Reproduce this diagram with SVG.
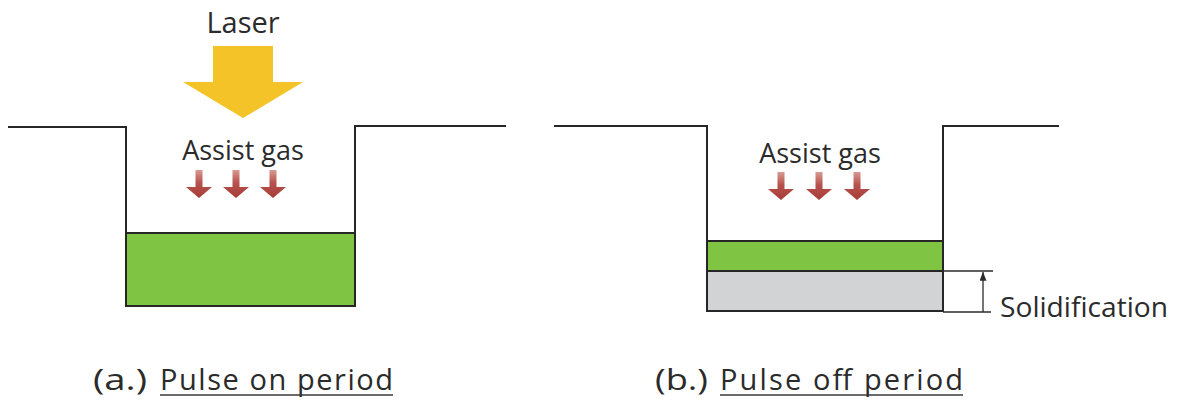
<svg xmlns="http://www.w3.org/2000/svg" width="1178" height="401" viewBox="0 0 1178 401">
  <style>
    .wall { fill: none; stroke: #262626; stroke-width: 2; stroke-linejoin: miter; }
    .melt { fill: #80c444; stroke: #262626; stroke-width: 2; }
    .solid { fill: #d2d3d5; stroke: #262626; stroke-width: 2; }
    .lbl { font-family: "Open Sans", "DejaVu Sans", sans-serif; fill: #2b2b2b; }
    .dim { stroke: #2b2b2b; stroke-width: 1.3; fill: none; }
    .uline { stroke: #3a3a3a; stroke-width: 1.6; }
    .gas { fill: url(#gasGrad); }
  </style>
  <defs>
    <linearGradient id="gasGrad" x1="0" y1="0" x2="0" y2="1">
      <stop offset="0" stop-color="#d79a93"/>
      <stop offset="0.45" stop-color="#b8524c"/>
      <stop offset="1" stop-color="#a63c37"/>
    </linearGradient>
    <!-- small downward gas arrow, origin at top centre -->
    <path id="gasArrow" d="M -3.5 0 H 3.5 V 17 H 13 L 0 28 L -13 17 H -3.5 Z"/>
    <marker id="tickHead" viewBox="0 0 10 8" refX="10" refY="4" markerWidth="9" markerHeight="7" orient="auto" markerUnits="userSpaceOnUse">
      <path d="M 0 0 L 10 4 L 0 8 Z" fill="#2b2b2b"/>
    </marker>
  </defs>

  <!-- (a) pulse on period -->
  <g id="panel-a">
    <rect class="melt" x="126" y="233" width="229" height="73"/>
    <path class="wall" d="M 8 127 H 126 V 306 H 355 V 126 H 506"/>
  </g>

  <g id="laser">
    <path d="M 213 46 H 273 V 82 H 303 L 243 118 L 183 82 H 213 Z" fill="#f4c328"/>
    <text class="lbl" x="243" y="33" font-size="29" text-anchor="middle">Laser</text>
  </g>

  <g id="gas-a">
    <text class="lbl" x="243" y="160" font-size="27" text-anchor="middle">Assist gas</text>
    <use href="#gasArrow" class="gas" x="199" y="170"/>
    <use href="#gasArrow" class="gas" x="236" y="170"/>
    <use href="#gasArrow" class="gas" x="273" y="170"/>
  </g>

  <!-- (b) pulse off period -->
  <g id="panel-b">
    <rect class="melt" x="707" y="241" width="236" height="30"/>
    <rect class="solid" x="707" y="271" width="236" height="40"/>
    <path class="wall" d="M 554 126 H 707 V 311 H 943 V 126 H 1059"/>
  </g>

  <g id="gas-b">
    <text class="lbl" x="820" y="163" font-size="27" text-anchor="middle">Assist gas</text>
    <use href="#gasArrow" class="gas" x="781" y="172"/>
    <use href="#gasArrow" class="gas" x="819" y="172"/>
    <use href="#gasArrow" class="gas" x="857" y="172"/>
  </g>

  <g id="connectors">
    <!-- solidification thickness dimension -->
    <line class="dim" x1="943" y1="271" x2="993" y2="271"/>
    <line class="dim" x1="943" y1="312" x2="991" y2="312"/>
    <line class="dim" x1="983" y1="312" x2="983" y2="272" marker-end="url(#tickHead)"/>
  </g>

  <g id="solidification-label">
    <text class="lbl" x="1000" y="317" font-size="28" textLength="168" lengthAdjust="spacingAndGlyphs">Solidification</text>
  </g>

  <g id="caption-a">
    <text class="lbl" x="93" y="390" font-size="29" textLength="54" lengthAdjust="spacingAndGlyphs">(a.)</text>
    <text class="lbl" x="160" y="390" font-size="29" textLength="233" lengthAdjust="spacing">Pulse on period</text>
    <line class="uline" x1="160" y1="395" x2="393" y2="395"/>
  </g>

  <g id="caption-b">
    <text class="lbl" x="655" y="390" font-size="29" textLength="53" lengthAdjust="spacingAndGlyphs">(b.)</text>
    <text class="lbl" x="720" y="390" font-size="29" textLength="243" lengthAdjust="spacing">Pulse off period</text>
    <line class="uline" x1="720" y1="395" x2="963" y2="395"/>
  </g>
</svg>
